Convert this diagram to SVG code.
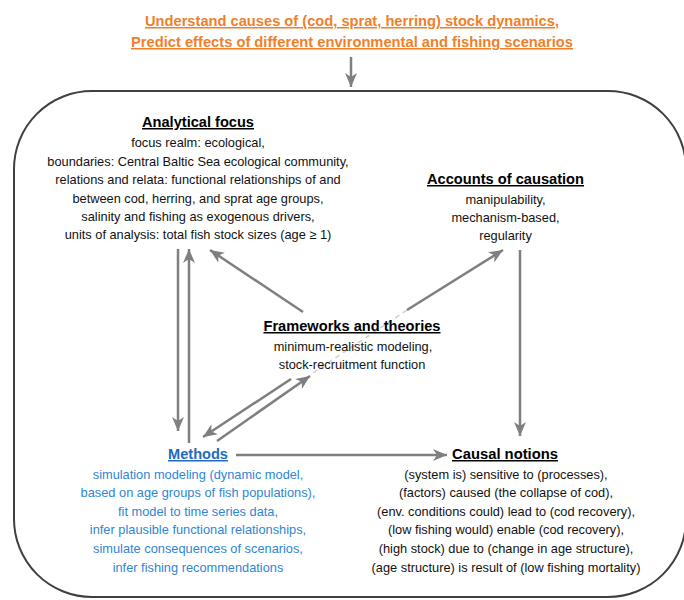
<svg xmlns="http://www.w3.org/2000/svg" width="684" height="600" viewBox="0 0 684 600">
<defs>
<marker id="ah" markerUnits="userSpaceOnUse" markerWidth="16" markerHeight="14" refX="14" refY="7" orient="auto">
<path d="M0,1 L14,7 L0,13 L4,7 Z" fill="#7f7f7f"/>
</marker>
<style>
text{font-family:"Liberation Sans",Arial,sans-serif;text-anchor:middle;}
.t{font-size:15px;font-weight:bold;fill:#F07F2A;text-decoration:underline;}
.h{font-size:15px;font-weight:bold;fill:#000;text-decoration:underline;}
.hb{font-size:15px;font-weight:bold;fill:#1F6BBF;text-decoration:underline;}
.b{font-size:12.8px;fill:#111;}
.bb{font-size:12.8px;fill:#2E86D4;}
.c{stroke:#7f7f7f;stroke-width:2.5;fill:none;marker-end:url(#ah);}
</style>
</defs>
<rect width="684" height="600" fill="#fff"/>
<g id="goal">
<text class="t" x="352" y="26" textLength="414" lengthAdjust="spacingAndGlyphs">Understand causes of (cod, sprat, herring) stock dynamics,</text>
<text class="t" x="352" y="47" textLength="442" lengthAdjust="spacingAndGlyphs">Predict effects of different environmental and fishing scenarios</text>
</g>
<g id="frame">
<rect x="14" y="91" width="672" height="506" rx="78" ry="78" fill="none" stroke="#404040" stroke-width="2"/>
</g>
<g id="connectors">
<line class="c" x1="351" y1="57" x2="351" y2="87"/>
<line class="c" x1="178" y1="249" x2="178" y2="431"/>
<line class="c" x1="189" y1="443" x2="189" y2="249"/>
<line class="c" x1="303" y1="312" x2="210" y2="250"/>
<line class="c" x1="407" y1="310" x2="503" y2="250"/>
<line x1="313" y1="373" x2="407" y2="310" stroke="#cfcfcf" stroke-width="1.5" stroke-dasharray="5,4"/>
<line class="c" x1="291" y1="379" x2="203" y2="437"/>
<line class="c" x1="217" y1="441" x2="310" y2="376"/>
<line class="c" x1="520" y1="250" x2="520" y2="436"/>
<line class="c" x1="236" y1="455" x2="447" y2="455"/>
</g>
<g id="analytical-focus">
<text class="h" x="198" y="127" textLength="112" lengthAdjust="spacingAndGlyphs">Analytical focus</text>
<text class="b" x="198" y="147">focus realm: ecological,</text>
<text class="b" x="198" y="166">boundaries: Central Baltic Sea ecological community,</text>
<text class="b" x="198" y="184">relations and relata: functional relationships of and</text>
<text class="b" x="198" y="203">between cod, herring, and sprat age groups,</text>
<text class="b" x="198" y="221">salinity and fishing as exogenous drivers,</text>
<text class="b" x="198" y="239">units of analysis: total fish stock sizes (age ≥ 1)</text>
</g>
<g id="accounts-of-causation">
<text class="h" x="505.5" y="184" textLength="157" lengthAdjust="spacingAndGlyphs">Accounts of causation</text>
<text class="b" x="505.5" y="204">manipulability,</text>
<text class="b" x="505.5" y="222">mechanism-based,</text>
<text class="b" x="505.5" y="240">regularity</text>
</g>
<g id="frameworks-and-theories">
<text class="h" x="352" y="331" textLength="177" lengthAdjust="spacingAndGlyphs">Frameworks and theories</text>
<text class="b" x="353" y="351">minimum-realistic  modeling,</text>
<text class="b" x="352" y="369">stock-recruitment function</text>
</g>
<g id="methods">
<text class="hb" x="198" y="459" textLength="60" lengthAdjust="spacingAndGlyphs">Methods</text>
<text class="bb" x="198" y="479">simulation modeling (dynamic model,</text>
<text class="bb" x="198" y="497">based on age groups of fish populations),</text>
<text class="bb" x="198" y="516">fit model to time series data,</text>
<text class="bb" x="198" y="534">infer plausible functional relationships,</text>
<text class="bb" x="198" y="553">simulate consequences of scenarios,</text>
<text class="bb" x="198" y="572">infer fishing recommendations</text>
</g>
<g id="causal-notions">
<text class="h" x="505" y="459" textLength="106" lengthAdjust="spacingAndGlyphs">Causal notions</text>
<text class="b" x="506" y="479">(system is) sensitive to (processes),</text>
<text class="b" x="506" y="497">(factors) caused (the collapse of cod),</text>
<text class="b" x="506" y="516">(env. conditions could) lead to (cod recovery),</text>
<text class="b" x="506" y="534">(low fishing would) enable (cod recovery),</text>
<text class="b" x="506" y="553">(high stock) due to (change in age structure),</text>
<text class="b" x="506" y="572">(age structure) is result of (low fishing mortality)</text>
</g>
</svg>
